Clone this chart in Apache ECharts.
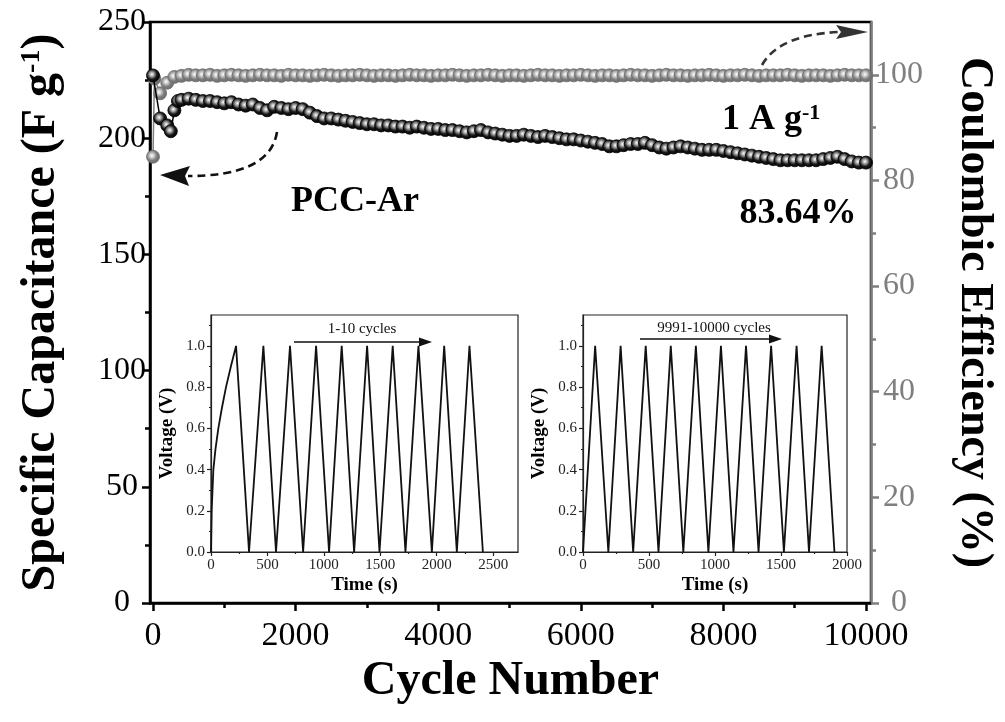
<!DOCTYPE html>
<html><head><meta charset="utf-8">
<script src="https://cdn.jsdelivr.net/npm/echarts@6/dist/echarts.min.js"></script>
<style>html,body{margin:0;padding:0;background:#fff}#c{width:1005px;height:722px}</style>
</head><body><div id="c"></div>
<script>
// ---- tick values ----
const cycleTicks = [0, 2000, 4000, 6000, 8000, 10000];
const cycleMinor = [1000, 3000, 5000, 7000, 9000];
const capMinor = [25, 75, 125, 175, 225];
const ceTicks = [0, 20, 40, 60, 80, 100];
const ceMinor = [10, 30, 50, 70, 90];
const voltTicks = [0, 0.2, 0.4, 0.6, 0.8, 1.0];
const voltMinor = [0.1, 0.3, 0.5, 0.7, 0.9, 1.1];
const time1Ticks = [0, 500, 1000, 1500, 2000, 2500];
const time1Minor = [250, 750, 1250, 1750, 2250];
const time2Ticks = [0, 500, 1000, 1500, 2000];
const time2Minor = [250, 750, 1250, 1750];

// ---- specific capacitance (F/g) vs cycle ----
const capCycles = [0,100,200,250,300,350,400,500,600,700,800,900,1000,1100,1200,1300,1400,1500,1600,1700,1800,1900,2000,2100,2200,2300,2400,2500,2600,2700,2800,2900,3000,3100,3200,3300,3400,3500,3600,3700,3800,3900,4000,4100,4200,4300,4400,4500,4600,4700,4800,4900,5000,5100,5200,5300,5400,5500,5600,5700,5800,5900,6000,6100,6200,6300,6400,6500,6600,6700,6800,6900,7000,7100,7200,7300,7400,7500,7600,7700,7800,7900,8000,8100,8200,8300,8400,8500,8600,8700,8800,8900,9000,9100,9200,9300,9400,9500,9600,9700,9800,9900,10000];
const capValues = [227,208.5,205.5,203,212,216,216.5,217,216.5,216,216,215.5,215,215.5,214.5,214,214.5,213,212,213.5,213,212.5,213,212.5,211,209.5,208.5,208.5,208,207.5,207,206.5,206,206,205.5,205.5,205,205,204.5,205,204.5,204,204,203.5,203.5,203,202.5,203,203.5,202.5,202,201.5,201,201,201.5,201,200.5,201,200.5,200,199.5,199.5,199,198.5,198,197.5,196.5,196.5,197,197.5,197.5,198,197,196,195.5,196,196.5,196,195.5,195,195,195,194.5,194,193.5,193,192.5,192,191.5,191,190.5,190.5,190.5,190.5,190.5,190.5,191,191.5,192,191,190,189.5,189.5];

// ---- coulombic efficiency (%) vs cycle ----
const ceCycles = [0,20,100,200,300,400,500,600,700,800,900,1000,1100,1200,1300,1400,1500,1600,1700,1800,1900,2000,2100,2200,2300,2400,2500,2600,2700,2800,2900,3000,3100,3200,3300,3400,3500,3600,3700,3800,3900,4000,4100,4200,4300,4400,4500,4600,4700,4800,4900,5000,5100,5200,5300,5400,5500,5600,5700,5800,5900,6000,6100,6200,6300,6400,6500,6600,6700,6800,6900,7000,7100,7200,7300,7400,7500,7600,7700,7800,7900,8000,8100,8200,8300,8400,8500,8600,8700,8800,8900,9000,9100,9200,9300,9400,9500,9600,9700,9800,9900,10000];
const ceValues = [84.5,99.3,96.5,98.5,99.6,
99.8,100.0,99.9,99.9,100.0,99.8,99.9,100.0,99.9,99.8,
99.9,100.0,99.9,99.9,99.8,100.0,99.9,99.9,99.8,99.9,
100.0,99.9,99.8,99.9,99.9,100.0,99.9,99.8,99.9,99.9,
99.8,99.9,100.0,99.9,99.9,99.8,99.9,99.9,100.0,99.9,
99.8,99.9,99.9,100.0,99.9,99.8,99.9,99.9,99.8,99.9,
100.0,99.9,99.9,99.8,99.9,99.9,100.0,99.9,99.8,99.9,
99.9,99.8,99.9,100.0,99.9,99.9,99.8,99.9,100.0,99.9,
99.9,99.8,99.9,99.9,100.0,99.9,99.8,99.9,99.9,100.0,
99.9,99.8,99.9,99.9,99.9,100.0,99.9,99.8,99.9,99.9,
99.9,99.8,99.9,100.0,99.9,99.9,99.9];

// ---- inset 1: cycles 1-10 GCD ----
const gcd1Time = [0,6,21,40,65,97,133,176,222,337,464,576,700,816,931,1046,1158,1268,1383,1493,1610,1723,1838,1957,2066,2178,2290,2409];
const gcd1Volt = [0,0.2,0.4,0.5,0.6,0.7,0.8,0.9,1.0,0,1,0,1,0,1,0,1,0,1,0,1,0,1,0,1,0,1,0];
// ---- inset 2: cycles 9991-10000 GCD ----
const gcd2Time = [0,92,192,285,380,475,572,665,760,855,950,1045,1140,1235,1330,1425,1522,1618,1712,1808,1905];
const gcd2Volt = [0,1,0,1,0,1,0,1,0,1,0,1,0,1,0,1,0,1,0,1,0];

const FF = 'Liberation Serif';
const zip = (a, b) => a.map((v, i) => [v, b[i]]);
const plain = v => String(v);

function axis(kind, o) {
  const base = {
    type: 'value', gridIndex: o.grid, min: o.min, max: o.max, position: o.pos,
    splitLine: { show: false },
    axisLine: { show: !!o.line, onZero: false, lineStyle: { color: o.color || '#000', width: o.lw || 2.5 } },
    axisTick: { show: true, inside: false, length: o.tl, customValues: o.ticks, lineStyle: { color: o.color || '#000', width: o.lw || 2.5 } },
    axisLabel: o.labels ? Object.assign({ customValues: o.ticks, formatter: plain, fontFamily: FF, fontSize: o.fs, color: o.lc || '#000', margin: o.margin, showMinLabel: true, showMaxLabel: true }, o.labelExtra || {}) : { show: false }
  };
  if (o.name) {
    base.name = o.name; base.nameLocation = 'middle'; base.nameGap = o.nameGap;
    base.nameTextStyle = Object.assign({ fontFamily: FF, fontWeight: 'bold', fontSize: o.nfs, color: '#000' }, o.nameExtra || {});
    if (o.nameRotate !== undefined) base.nameRotate = o.nameRotate;
  }
  return base;
}

const blackBall = { type: 'radial', x: 0.42, y: 0.42, r: 0.6, colorStops: [
  { offset: 0, color: '#ffffff' }, { offset: 0.28, color: '#a0a0a0' }, { offset: 0.6, color: '#1a1a1a' }, { offset: 1, color: '#000' }] };
const grayBall = { type: 'radial', x: 0.42, y: 0.42, r: 0.6, colorStops: [
  { offset: 0, color: '#ffffff' }, { offset: 0.28, color: '#c8c8c8' }, { offset: 0.6, color: '#7d7d7d' }, { offset: 1, color: '#6a6a6a' }] };

const supStyle = { fontFamily: FF, fontWeight: 'bold', fontSize: 28, verticalAlign: 'top', lineHeight: 48 };

const option = {
  animation: false,
  backgroundColor: '#fff',
  grid: [
    { left: 150, top: 22, width: 722, height: 581, show: true, borderColor: '#000', borderWidth: 2.5, backgroundColor: 'transparent' },
    { left: 211, top: 315, width: 307, height: 237, show: true, borderColor: '#222', borderWidth: 1.2, backgroundColor: '#fff' },
    { left: 583, top: 315, width: 264, height: 237, show: true, borderColor: '#222', borderWidth: 1.2, backgroundColor: '#fff' }
  ],
  xAxis: [
    axis('x', { grid: 0, min: -42, max: 10070, pos: 'bottom', line: true, tl: 8, ticks: cycleTicks, labels: true, fs: 34, margin: 16,
      name: 'Cycle Number', nameGap: 52, nfs: 48 }),
    axis('x', { grid: 0, min: -42, max: 10070, pos: 'bottom', line: false, tl: 5, ticks: cycleMinor }),
    axis('x', { grid: 1, min: 0, max: 2720, pos: 'bottom', line: true, lw: 1.2, color: '#222', tl: 4, ticks: time1Ticks, labels: true, fs: 15, lc: '#222', margin: 6,
      name: 'Time (s)', nameGap: 24, nfs: 19 }),
    axis('x', { grid: 1, min: 0, max: 2720, pos: 'bottom', line: false, lw: 1.2, color: '#222', tl: 2, ticks: time1Minor }),
    axis('x', { grid: 2, min: 0, max: 2000, pos: 'bottom', line: true, lw: 1.2, color: '#222', tl: 4, ticks: time2Ticks, labels: true, fs: 15, lc: '#222', margin: 6,
      name: 'Time (s)', nameGap: 24, nfs: 19 }),
    axis('x', { grid: 2, min: 0, max: 2000, pos: 'bottom', line: false, lw: 1.2, color: '#222', tl: 2, ticks: time2Minor })
  ],
  yAxis: [
    axis('y', { grid: 0, min: 0, max: 250, pos: 'left', line: true, tl: 8, ticks: [0, 50, 100, 150, 200, 250], labels: true, fs: 32, margin: 28,
      labelExtra: { align: 'center' },
      name: 'Specific Capacitance (F g{sup|-1})', nameGap: 84, nfs: 48, nameExtra: { rich: { sup: supStyle } } }),
    axis('y', { grid: 0, min: 0, max: 110, pos: 'right', line: true, color: '#7f7f7f', tl: 8, ticks: ceTicks, labels: true, fs: 32, lc: '#7f7f7f', margin: 28,
      labelExtra: { align: 'center' },
      name: 'Coulombic Efficiency (%)', nameGap: 80, nfs: 46, nameRotate: -90 }),
    axis('y', { grid: 0, min: 0, max: 250, pos: 'left', line: false, tl: 5, ticks: capMinor }),
    axis('y', { grid: 0, min: 0, max: 110, pos: 'right', line: false, color: '#7f7f7f', tl: 5, ticks: ceMinor }),
    axis('y', { grid: 1, min: 0, max: 1.15, pos: 'left', line: true, lw: 1.2, color: '#222', tl: 4, ticks: voltTicks, labels: true, fs: 15, lc: '#222', margin: 6,
      labelExtra: { formatter: v => v.toFixed(1) }, name: 'Voltage (V)', nameGap: 34, nfs: 19 }),
    axis('y', { grid: 1, min: 0, max: 1.15, pos: 'left', line: false, lw: 1.2, color: '#222', tl: 2, ticks: voltMinor }),
    axis('y', { grid: 2, min: 0, max: 1.15, pos: 'left', line: true, lw: 1.2, color: '#222', tl: 4, ticks: voltTicks, labels: true, fs: 15, lc: '#222', margin: 6,
      labelExtra: { formatter: v => v.toFixed(1) }, name: 'Voltage (V)', nameGap: 34, nfs: 19 }),
    axis('y', { grid: 2, min: 0, max: 1.15, pos: 'left', line: false, lw: 1.2, color: '#222', tl: 2, ticks: voltMinor })
  ],
  series: [
    { type: 'line', name: 'CE', xAxisIndex: 0, yAxisIndex: 1, data: zip(ceCycles, ceValues), symbol: 'circle', symbolSize: 13,
      itemStyle: { color: grayBall, borderColor: '#6e6e6e', borderWidth: 0.8 }, lineStyle: { color: '#7f7f7f', width: 1.5 }, clip: false, z: 3 },
    { type: 'line', name: 'Capacitance', xAxisIndex: 0, yAxisIndex: 0, data: zip(capCycles, capValues), symbol: 'circle', symbolSize: 13,
      itemStyle: { color: blackBall, borderColor: '#000', borderWidth: 0.8 }, lineStyle: { color: '#000', width: 1.5 }, clip: false, z: 4 },
    { type: 'line', xAxisIndex: 2, yAxisIndex: 4, data: zip(gcd1Time, gcd1Volt), symbol: 'none', lineStyle: { color: '#111', width: 1.8 }, z: 5 },
    { type: 'line', xAxisIndex: 4, yAxisIndex: 6, data: zip(gcd2Time, gcd2Volt), symbol: 'none', lineStyle: { color: '#111', width: 1.8 }, z: 5 }
  ],
  graphic: [
    { type: 'text', z: 10, style: { x: 355, y: 202, text: 'PCC-Ar', align: 'center', verticalAlign: 'middle', font: 'bold 36px "Liberation Serif"', fill: '#000' } },
    { type: 'text', z: 10, style: { x: 798, y: 214, text: '83.64%', align: 'center', verticalAlign: 'middle', font: 'bold 36px "Liberation Serif"', fill: '#000' } },
    { type: 'text', z: 10, style: { x: 722, y: 120, text: '1 A g{sup|-1}', align: 'left', verticalAlign: 'middle', font: 'bold 36px "Liberation Serif"', fill: '#000',
      rich: { sup: { font: 'bold 22px "Liberation Serif"', verticalAlign: 'top', fill: '#000' } } } },
    { type: 'text', z: 10, style: { x: 362, y: 329, text: '1-10 cycles', align: 'center', verticalAlign: 'middle', font: '15px "Liberation Serif"', fill: '#111' } },
    { type: 'text', z: 10, style: { x: 714, y: 328, text: '9991-10000 cycles', align: 'center', verticalAlign: 'middle', font: '15px "Liberation Serif"', fill: '#111' } },
    // inset arrows
    { type: 'line', z: 10, shape: { x1: 294, y1: 342, x2: 422, y2: 342 }, style: { stroke: '#111', lineWidth: 1.5 } },
    { type: 'polygon', z: 10, shape: { points: [[432, 342], [419, 337.5], [419, 346.5]] }, style: { fill: '#111' } },
    { type: 'line', z: 10, shape: { x1: 640, y1: 339, x2: 772, y2: 339 }, style: { stroke: '#111', lineWidth: 1.5 } },
    { type: 'polygon', z: 10, shape: { points: [[782, 339], [769, 334.5], [769, 343.5]] }, style: { fill: '#111' } },
    // dashed curved arrows
    { type: 'bezierCurve', z: 10, shape: { x1: 277, y1: 132, cpx1: 272, cpy1: 164, cpx2: 238, cpy2: 176, x2: 188, y2: 176 },
      style: { stroke: '#111', lineWidth: 2.6, lineDash: [8, 5], fill: null } },
    { type: 'polygon', z: 10, shape: { points: [[160, 175], [190, 166], [185, 176], [189, 186]] }, style: { fill: '#111' } },
    { type: 'bezierCurve', z: 10, shape: { x1: 762, y1: 65, cpx1: 774, cpy1: 44, cpx2: 800, cpy2: 34, x2: 838, y2: 32 },
      style: { stroke: '#333', lineWidth: 2.6, lineDash: [8, 5], fill: null } },
    { type: 'polygon', z: 10, shape: { points: [[868, 32], [836, 25], [841, 32], [836, 39]] }, style: { fill: '#333' } }
  ]
};

const chart = echarts.init(document.getElementById('c'), null, { renderer: 'canvas' });
chart.setOption(option);
</script>
</body></html>
